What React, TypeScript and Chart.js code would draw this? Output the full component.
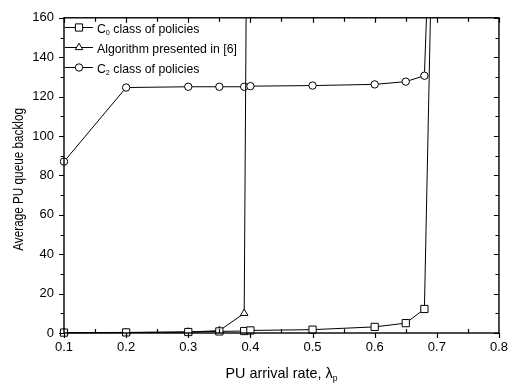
import { useEffect, useRef } from "react";
import { Chart, registerables } from "chart.js";

Chart.register(...registerables);

// ---- data ----
const xC0 = [0.1, 0.2, 0.3, 0.35, 0.39, 0.4, 0.5, 0.6, 0.65, 0.68, 0.69];
const yC0 = [0.2, 0.3, 0.5, 0.8, 1.0, 1.3, 1.7, 3.1, 5.0, 12.2, 165];

const xAlg = [0.1, 0.2, 0.3, 0.35, 0.39, 0.4];
const yAlg = [0.1, 0.2, 0.5, 1.2, 10, 500];

const xC2 = [0.1, 0.2, 0.3, 0.35, 0.39, 0.4, 0.5, 0.6, 0.65, 0.68, 0.69];
const yC2 = [87, 124.6, 125, 125, 125, 125.3, 125.6, 126.2, 127.6, 130.6, 220];

const xTickValues = [0.1, 0.2, 0.3, 0.4, 0.5, 0.6, 0.7, 0.8];
const yTickValues = [0, 20, 40, 60, 80, 100, 120, 140, 160];

const legendLabels = [
  [{ t: "C" }, { t: "0", sub: true }, { t: " class of policies" }],
  [{ t: "Algorithm presented in [6]" }],
  [{ t: "C" }, { t: "2", sub: true }, { t: " class of policies" }],
];
const legendStyles = ["rect", "triangle", "circle"];
const xTitle = [{ t: "PU arrival rate, λ" }, { t: "p", sub: true }];
const yTitle = "Average PU queue backlog";

const FONT = '"Liberation Sans", Arial, Helvetica, sans-serif';

type Part = { t: string; sub?: boolean };

function richWidth(ctx: CanvasRenderingContext2D, parts: Part[], size: number) {
  let w = 0;
  for (const p of parts) {
    ctx.font = `${p.sub ? Math.round(size * 0.62) : size}px ${FONT}`;
    w += ctx.measureText(p.t).width;
  }
  return w;
}

function drawRich(
  ctx: CanvasRenderingContext2D,
  x: number,
  y: number,
  parts: Part[],
  size: number,
  align: "left" | "center",
  sx = 1
) {
  ctx.save();
  ctx.translate(x, y);
  ctx.scale(sx, 1);
  let cx = 0;
  if (align === "center") cx = -richWidth(ctx, parts, size) / 2;
  ctx.textAlign = "left";
  ctx.textBaseline = "alphabetic";
  for (const p of parts) {
    const s = p.sub ? Math.round(size * 0.62) : size;
    ctx.font = `${s}px ${FONT}`;
    const dy = p.sub ? size * 0.22 : 0;
    ctx.fillText(p.t, cx, dy);
    cx += ctx.measureText(p.t).width;
  }
  ctx.restore();
}

function drawMarker(ctx: CanvasRenderingContext2D, style: string, x: number, y: number) {
  ctx.beginPath();
  if (style === "rect") {
    ctx.rect(x - 3.6, y - 3.6, 7.2, 7.2);
  } else if (style === "triangle") {
    const r = 4.3;
    ctx.moveTo(x, y - r);
    ctx.lineTo(x + r * 0.866, y + r * 0.5);
    ctx.lineTo(x - r * 0.866, y + r * 0.5);
    ctx.closePath();
  } else {
    ctx.arc(x, y, 3.7, 0, Math.PI * 2);
  }
  ctx.fillStyle = "#fff";
  ctx.fill();
  ctx.stroke();
}

const framePlugin = {
  id: "frame",
  afterDraw(chart: any) {
    const ctx: CanvasRenderingContext2D = chart.ctx;
    const { left, right, top, bottom } = chart.chartArea;
    const xs = chart.scales.x;
    const ys = chart.scales.y;
    ctx.save();
    ctx.strokeStyle = "#000";
    ctx.fillStyle = "#000";
    ctx.lineWidth = 1.4;
    ctx.strokeRect(left, top, right - left, bottom - top);

    ctx.lineWidth = 1.2;
    ctx.beginPath();
    // x ticks every 0.05
    for (let i = 2; i <= 16; i++) {
      const v = i * 0.05;
      const px = Math.round(xs.getPixelForValue(v)) + 0.5;
      const major = i % 2 === 0;
      if (major) {
        ctx.moveTo(px, bottom);
        ctx.lineTo(px, bottom + 5);
        ctx.moveTo(px, top);
        ctx.lineTo(px, top + 5);
      } else {
        ctx.moveTo(px, bottom);
        ctx.lineTo(px, bottom - 4);
        ctx.moveTo(px, top);
        ctx.lineTo(px, top + 4);
      }
    }
    // y ticks every 10
    for (let i = 0; i <= 16; i++) {
      const v = i * 10;
      const py = Math.round(ys.getPixelForValue(v)) + 0.5;
      const major = i % 2 === 0;
      const len = major ? 5 : 3.5;
      ctx.moveTo(left, py);
      ctx.lineTo(left - len, py);
      ctx.moveTo(right, py);
      ctx.lineTo(right - len, py);
    }
    ctx.stroke();

    // legend
    ctx.lineWidth = 1;
    const rows = [27.5, 47.5, 67.5];
    for (let i = 0; i < 3; i++) {
      const y = rows[i];
      ctx.beginPath();
      ctx.moveTo(65, y);
      ctx.lineTo(93, y);
      ctx.stroke();
      drawMarker(ctx, legendStyles[i], 79, y);
      ctx.fillStyle = "#000";
      drawRich(ctx, 97, y + 5, legendLabels[i], 13.5, "left", 0.91);
    }

    // axis titles
    ctx.fillStyle = "#000";
    drawRich(ctx, (left + right) / 2, 378, xTitle, 15, "center", 0.96);
    ctx.save();
    ctx.translate(23, (top + bottom) / 2 + 4);
    ctx.rotate(-Math.PI / 2);
    ctx.font = `14.5px ${FONT}`;
    ctx.textAlign = "center";
    ctx.textBaseline = "alphabetic";
    ctx.scale(0.81, 1);
    ctx.fillText(yTitle, 0, 0);
    ctx.restore();

    ctx.restore();
  },
};

export default function App() {
  const ref = useRef<HTMLCanvasElement | null>(null);
  useEffect(() => {
    document.body.style.margin = "0";
    const canvas = ref.current!;
    const mk = (xs: number[], ys: number[]) => xs.map((x, i) => ({ x, y: ys[i] }));
    const common = {
      borderColor: "#000",
      borderWidth: 1,
      pointBackgroundColor: "#fff",
      pointBorderColor: "#000",
      pointBorderWidth: 1,
      tension: 0,
      fill: false,
      clip: { left: 8, top: 0, right: 0, bottom: 8 },
    };
    const chart = new Chart(canvas, {
      type: "line",
      data: {
        datasets: [
          { ...common, label: "C0", data: mk(xC0, yC0), pointStyle: "rect", pointRadius: 5.1 },
          { ...common, label: "Alg", data: mk(xAlg, yAlg), pointStyle: "triangle", pointRadius: 4.3 },
          { ...common, label: "C2", data: mk(xC2, yC2), pointStyle: "circle", pointRadius: 3.7 },
        ],
      },
      options: {
        animation: false,
        responsive: false,
        devicePixelRatio: 1,
        layout: { padding: { top: 9, right: 15, left: 0, bottom: 0 } },
        plugins: { legend: { display: false }, tooltip: { enabled: false } },
        scales: {
          x: {
            type: "linear",
            min: 0.1,
            max: 0.8,
            afterFit: (s: any) => {
              s.height = 55;
            },
            afterBuildTicks: (s: any) => {
              s.ticks = xTickValues.map((v) => ({ value: v }));
            },
            grid: { display: false, drawTicks: false },
            border: { display: false },
            ticks: {
              color: "#000",
              font: { family: FONT, size: 13 },
              padding: 7,
              maxRotation: 0,
              autoSkip: false,
              callback: (v: any) => Number(v).toFixed(1),
            },
          },
          y: {
            type: "linear",
            min: 0,
            max: 160,
            afterFit: (s: any) => {
              s.width = 64;
            },
            afterBuildTicks: (s: any) => {
              s.ticks = yTickValues.map((v) => ({ value: v }));
            },
            grid: { display: false, drawTicks: false },
            border: { display: false },
            ticks: {
              color: "#000",
              font: { family: FONT, size: 13 },
              padding: 10,
              autoSkip: false,
              callback: (v: any) => String(v),
            },
          },
        },
      },
      plugins: [framePlugin],
    } as any);
    return () => chart.destroy();
  }, []);
  return (
    <div style={{ position: "fixed", left: 0, top: 0, width: 515, height: 388, background: "#fff" }}>
      <canvas ref={ref} width={515} height={388} style={{ width: 515, height: 388, display: "block" }} />
    </div>
  );
}
